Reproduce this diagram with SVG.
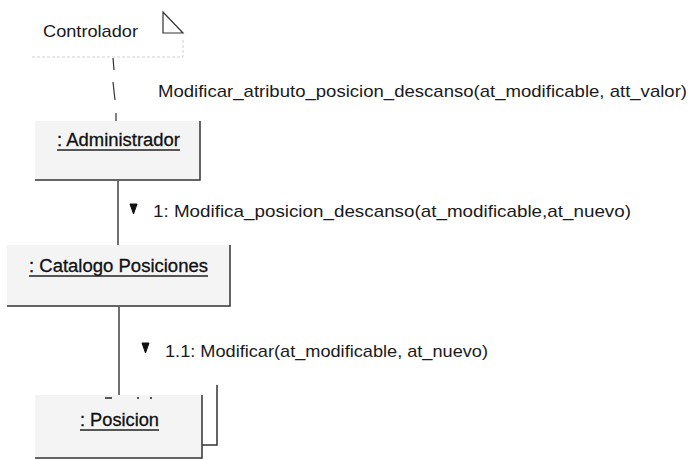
<svg xmlns="http://www.w3.org/2000/svg" width="693" height="460" viewBox="0 0 693 460">
  <style>
    .lbl { font-family: "Liberation Sans", Arial, sans-serif; font-size: 17px; fill: #1a1a1a; }
    .obj { font-family: "Liberation Sans", Arial, sans-serif; font-size: 18px; fill: #111; stroke: #111; stroke-width: 0.3; }
    .ul { stroke: #222; stroke-width: 1.6; }
    .box { fill: #f4f4f4; stroke: none; }
    .edge { fill: none; stroke: #333; stroke-width: 1.5; }
    .faint { fill: none; stroke: #d0d0d0; stroke-width: 1; stroke-dasharray: 3 2; }
    .link { fill: none; stroke: #222; stroke-width: 1.3; }
    .dep { fill: none; stroke: #333; stroke-width: 1.2; }
    .arrow { fill: #111; stroke: #111; stroke-width: 1; stroke-linejoin: round; }
  </style>
  <rect width="693" height="460" fill="#ffffff"/>

  <!-- connectors -->
  <g id="connectors">
    <path class="dep" d="M113 58 L114 70 M113 82 L115 100 M116 113 L116 121"/>
    <line class="link" x1="118" y1="181" x2="118" y2="246"/>
    <line class="link" x1="119" y1="307" x2="119" y2="401"/>
    <text class="lbl" x="158" y="97" textLength="529" lengthAdjust="spacingAndGlyphs">Modificar_atributo_posicion_descanso(at_modificable, att_valor)</text>
    <polygon class="arrow" points="130,204 137,204 133.5,214"/>
    <text class="lbl" x="153" y="217" textLength="478" lengthAdjust="spacingAndGlyphs">1: Modifica_posicion_descanso(at_modificable,at_nuevo)</text>
    <polygon class="arrow" points="142,343 149,343 145.5,353"/>
    <text class="lbl" x="165" y="357" textLength="323" lengthAdjust="spacingAndGlyphs">1.1: Modificar(at_modificable, at_nuevo)</text>
  </g>

  <!-- boundary object: Controlador -->
  <g id="controlador">
    <path class="faint" d="M32 57 H183 V38"/>
    <text class="lbl" x="43" y="37" textLength="95" lengthAdjust="spacingAndGlyphs">Controlador</text>
    <path fill="none" stroke="#333" stroke-width="1.2" d="M163 12 V33 H183 Z"/>
  </g>

  <!-- object: Administrador -->
  <g id="administrador">
    <rect class="box" x="35" y="121" width="165" height="59"/>
    <path class="edge" d="M35 180 H200 V121"/>
    <text class="obj" x="57" y="146" textLength="123" lengthAdjust="spacingAndGlyphs">: Administrador</text>
    <line class="ul" x1="57" y1="150" x2="180" y2="150"/>
  </g>

  <!-- object: Catalogo Posiciones -->
  <g id="catalogo">
    <rect class="box" x="7" y="245" width="223" height="61"/>
    <path class="edge" d="M7 306 H230 V245"/>
    <text class="obj" x="29" y="272" textLength="179" lengthAdjust="spacingAndGlyphs">: Catalogo Posiciones</text>
    <line class="ul" x1="29" y1="276" x2="208" y2="276"/>
  </g>

  <!-- multi-object: Posicion -->
  <g id="posicion">
    <path class="edge" d="M202 445 H217 V385"/>
    <rect class="box" x="35" y="395" width="167" height="63"/>
    <path class="edge" d="M35 458 H202 V395"/>
    <path stroke="#222" stroke-width="1.3" d="M105 398 H112 M137 398 H139 M150 398 H152"/>
    <text class="obj" x="80" y="426" textLength="79" lengthAdjust="spacingAndGlyphs">: Posicion</text>
    <line class="ul" x1="80" y1="430" x2="159" y2="430"/>
  </g>
</svg>
